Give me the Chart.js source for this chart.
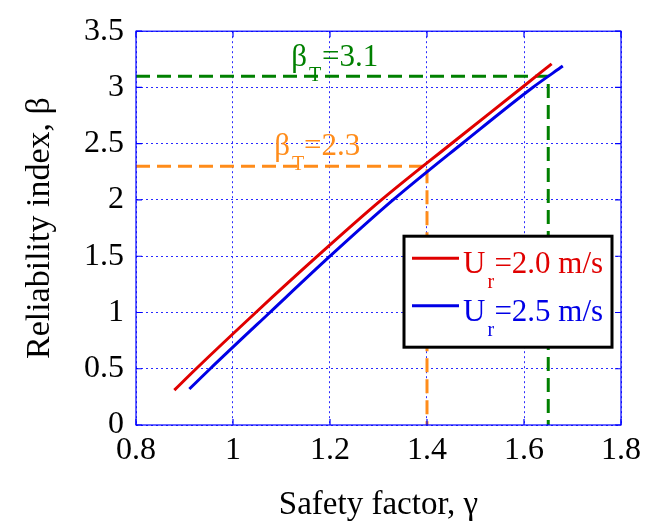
<!DOCTYPE html>
<html lang="en">
<head>
<meta charset="UTF-8">
<title>Reliability index vs safety factor</title>
<script src="https://cdn.jsdelivr.net/npm/chart.js@4.4.0/dist/chart.umd.min.js"></script>
<style>
body{margin:0;background:#fff}
#box{position:relative;width:648px;height:522px}
</style>
</head>
<body>
<div id="box"><canvas id="c"></canvas></div>
<script>
// curves
const redGamma  = [0.879, 0.924, 1.047, 1.174, 1.306, 1.450, 1.596, 1.657];
const redBeta   = [0.31,  0.5,   1.0,   1.5,   2.0,   2.5,   3.0,   3.21];
const blueGamma = [0.910, 0.953, 1.076, 1.200, 1.330, 1.472, 1.618, 1.680];
const blueBeta  = [0.32,  0.5,   1.0,   1.5,   2.0,   2.5,   3.0,   3.19];
const seriesNames = ['2.0 m/s', '2.5 m/s'];

// target reliability levels and the safety factors they give
const targetBeta  = [2.3, 3.1];
const targetGamma = [1.4, 1.65];
const targetColors = ['#ff8c1a', '#008000'];

const xMin = 0.8, xMax = 1.8, xStep = 0.2;
const yMin = 0,   yMax = 3.5, yStep = 0.5;

const FONT = "'Liberation Serif','Times New Roman',serif";

const pts = (xs, ys) => xs.map((v, i) => ({x: v, y: ys[i]}));
const fmt = v => String(Number(v.toFixed(1)));

const curve = (label, data, col) => ({
  label, data, borderColor: col, backgroundColor: col,
  borderWidth: 3, pointRadius: 0, showLine: true, cubicInterpolationMode: 'monotone'
});

const target = (i) => ({
  label: 'target' + i,
  data: [{x: xMin, y: targetBeta[i]}, {x: targetGamma[i], y: targetBeta[i]}, {x: targetGamma[i], y: yMin}],
  borderColor: targetColors[i], borderWidth: 3, borderDash: [14, 7],
  pointRadius: 0, showLine: true, tension: 0
});

/* frame, inner ticks, β_T labels and the legend */
const extras = {
  id: 'extras',
  afterDatasetsDraw(chart) {
    const {ctx, chartArea: a, scales: {x, y}} = chart;
    ctx.save();
    ctx.setLineDash([]);
    ctx.strokeStyle = '#0000ff';
    ctx.lineWidth = 1.2;
    ctx.strokeRect(a.left, a.top, a.right - a.left, a.bottom - a.top);
    ctx.beginPath();
    x.ticks.forEach((t, i) => {
      const px = x.getPixelForTick(i);
      ctx.moveTo(px, a.bottom); ctx.lineTo(px, a.bottom - 6);
      ctx.moveTo(px, a.top); ctx.lineTo(px, a.top + 6);
    });
    y.ticks.forEach((t, i) => {
      const py = y.getPixelForTick(i);
      ctx.moveTo(a.left, py); ctx.lineTo(a.left + 6, py);
      ctx.moveTo(a.right, py); ctx.lineTo(a.right - 6, py);
    });
    ctx.stroke();

    // text with a subscript: big, sub, rest
    function sub(x0, base, big, small, rest, col, gap) {
      ctx.fillStyle = col;
      ctx.textBaseline = 'alphabetic';
      ctx.textAlign = 'left';
      ctx.font = '31px ' + FONT;
      const w = ctx.measureText(big).width;
      ctx.fillText(big, x0, base);
      ctx.font = '20px ' + FONT;
      ctx.fillText(small, x0 + w + 2, base + 15);
      ctx.font = '31px ' + FONT;
      ctx.fillText(rest, x0 + w + gap, base);
    }

    sub(x.getPixelForValue(1.085), y.getPixelForValue(targetBeta[0]) - 11, 'β', 'T', '=' + targetBeta[0], targetColors[0], 14);
    sub(x.getPixelForValue(1.12),  y.getPixelForValue(targetBeta[1]) - 10, 'β', 'T', '=' + targetBeta[1], targetColors[1], 15);

    // legend box
    const lx = a.right - 217, ly = a.top + 205, lw = 208, lh = 111;
    ctx.fillStyle = '#fff';
    ctx.fillRect(lx, ly, lw, lh);
    ctx.strokeStyle = '#000';
    ctx.lineWidth = 3;
    ctx.strokeRect(lx, ly, lw, lh);
    [0, 1].forEach(i => {
      const ds = chart.data.datasets[i];
      const rowY = ly + 22 + i * 47.5;
      ctx.strokeStyle = ds.borderColor;
      ctx.lineWidth = 3;
      ctx.beginPath();
      ctx.moveTo(lx + 8, rowY); ctx.lineTo(lx + 55, rowY);
      ctx.stroke();
      sub(lx + 59, rowY + 15, 'U', 'r', '=' + ds.label, ds.borderColor, 9);
    });
    ctx.restore();
  }
};

new Chart(document.getElementById('c'), {
  type: 'scatter',
  data: {
    datasets: [
      curve(seriesNames[0], pts(redGamma, redBeta), '#e00000'),
      curve(seriesNames[1], pts(blueGamma, blueBeta), '#0000e6'),
      target(1),
      target(0)
    ]
  },
  options: {
    responsive: true,
    maintainAspectRatio: false,
    animation: false,
    layout: {padding: {left: 0, right: 27, top: 31, bottom: 0}},
    plugins: {legend: {display: false}, tooltip: {enabled: false}},
    scales: {
      x: {
        type: 'linear', min: xMin, max: xMax,
        ticks: {stepSize: xStep, color: '#000', padding: 6, font: {family: FONT, size: 32}, callback: fmt},
        grid: {color: '#2a2aff', lineWidth: 1, drawTicks: false},
        border: {display: false, dash: [2, 3]},
        title: {display: true, text: 'Safety factor, γ', color: '#000', padding: {top: 0, bottom: 0},
                font: {family: FONT, size: 33, lineHeight: 1}},
        afterFit(s) { s.height = 97; }
      },
      y: {
        min: yMin, max: yMax,
        ticks: {stepSize: yStep, color: '#000', padding: 12, font: {family: FONT, size: 32}, callback: fmt},
        grid: {color: '#2a2aff', lineWidth: 1, drawTicks: false},
        border: {display: false, dash: [2, 3]},
        title: {display: true, text: 'Reliability index, β', color: '#000', padding: {top: 20, bottom: 0},
                font: {family: FONT, size: 34, lineHeight: 1.2}},
        afterFit(s) { s.width = 136; }
      }
    }
  },
  plugins: [extras]
});
</script>
</body>
</html>
